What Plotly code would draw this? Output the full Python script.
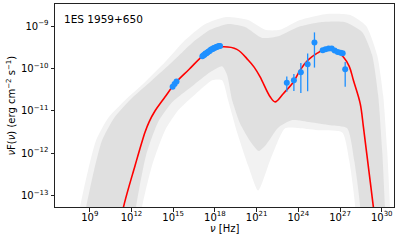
import numpy as np
import plotly.graph_objects as go

# ---------------- data (log10 values) ----------------
# best-fit model curve
model_lognu = [11.20, 11.42, 12.26, 12.98, 13.27, 13.70, 14.42, 15.14, 16.15, 17.16, 17.88,
               18.61, 19.58, 20.39, 20.82, 21.25, 21.97, 22.33, 22.93, 23.65, 24.13, 24.71,
               25.36, 26.05, 26.65, 27.24, 27.66, 27.96, 28.45, 28.68, 29.04, 29.40, 29.50]
model_logf = [-13.70, -13.28, -12.29, -11.50, -11.26, -11.00, -10.67, -10.35, -10.02, -9.69, -9.54,
              -9.49, -9.55, -9.80, -9.97, -10.20, -10.67, -10.79, -10.59, -10.32, -10.04, -9.80,
              -9.64, -9.53, -9.57, -9.73, -9.95, -10.28, -10.83, -11.38, -12.33, -13.28, -13.60]

# envelope of the sampled models (dense core), outline traced clockwise
core_lognu = [8.60, 8.74, 9.31, 9.88, 10.75, 12.04, 13.48, 14.92, 16.36, 17.65, 18.95, 20.17,
              21.40, 22.55, 23.99, 25.57, 27.37, 28.59, 29.31, 29.74, 30.03, 30.24, 30.30,
              28.40, 28.45, 28.02, 27.51, 26.29, 24.85, 23.56, 22.55, 21.68, 21.15, 20.60,
              19.81, 19.24, 18.88, 18.52, 17.65, 16.36, 14.92, 13.91, 13.05, 12.33, 12.25]
core_logf = [-13.60, -13.28, -12.40, -11.70, -11.17, -10.70, -10.28, -9.85, -9.40, -9.09, -8.95, -9.02,
             -9.28, -9.24, -9.02, -8.91, -8.91, -9.14, -9.69, -10.63, -11.93, -13.28, -13.60,
             -13.60, -13.28, -12.17, -11.41, -11.34, -11.27, -11.22, -11.40, -11.80, -11.95, -11.75,
             -11.30, -10.75, -10.16, -9.95, -10.09, -10.42, -10.80, -11.27, -12.05, -13.28, -13.60]

# faint outer envelope
outer_lognu = [8.20, 8.30, 8.88, 9.45, 10.32, 11.54, 12.98, 14.42, 15.86, 17.30, 18.74, 20.39,
               21.61, 22.68, 24.12, 25.92, 27.73, 28.88, 29.67, 30.10, 30.39, 30.60, 30.65,
               28.00, 28.09, 27.66, 27.16, 25.57, 24.12, 23.05, 21.97, 21.11, 20.39, 19.60,
               18.95, 18.52, 17.81, 16.59, 15.36, 14.42, 13.48, 12.76, 12.70]
outer_logf = [-13.60, -13.28, -12.40, -11.70, -11.17, -10.75, -10.32, -9.85, -9.33, -8.95, -8.79, -8.86,
              -9.09, -9.09, -8.86, -8.72, -8.74, -9.00, -9.69, -10.63, -11.93, -13.28, -13.60,
              -13.60, -13.28, -12.17, -11.51, -11.46, -11.41, -11.41, -12.17, -12.88, -12.29, -11.51,
              -10.75, -10.28, -10.28, -10.61, -10.99, -11.46, -12.29, -13.28, -13.60]

# optical / UV points
opt_lognu = [14.96, 15.10, 15.24]
opt_logf = [-10.43, -10.37, -10.31]

# X-ray points
xr_lognu = [17.10, 17.18, 17.25, 17.32, 17.40, 17.47, 17.55, 17.62, 17.70, 17.77, 17.85, 17.92,
            18.00, 18.07, 18.15, 18.22, 18.30, 18.37]
xr_logf = [-9.71, -9.69, -9.68, -9.65, -9.64, -9.62, -9.60, -9.59, -9.56, -9.55, -9.54, -9.52,
           -9.51, -9.50, -9.49, -9.48, -9.47, -9.47]

# gamma-ray points with asymmetric errors (in dex)
gam_lognu = [23.17, 23.68, 24.18, 24.67, 25.16, 25.75, 25.96, 26.18, 26.40, 26.61, 26.83, 27.04, 27.19, 27.37]
gam_logf = [-10.34, -10.28, -10.09, -9.90, -9.39, -9.57, -9.55, -9.53, -9.53, -9.58, -9.61, -9.63, -9.64, -10.02]
gam_err_up = [0.15, 0.15, 0.22, 0.25, 0.24, 0.03, 0.03, 0.03, 0.03, 0.03, 0.03, 0.03, 0.03, 0.17]
gam_err_dn = [0.21, 0.25, 0.49, 0.64, 0.59, 0.03, 0.03, 0.03, 0.03, 0.03, 0.03, 0.03, 0.03, 0.41]

x_tick_exp = [9, 12, 15, 18, 21, 24, 27, 30]
y_tick_exp = [-13, -12, -11, -10, -9]
source_name = "1ES 1959+650"

# ---------------- figure ----------------
p = lambda a: 10.0 ** np.asarray(a, dtype=float)
FONT = "DejaVu Sans"
BLUE = "#1E90FF"

fig = go.Figure()
fig.add_trace(go.Scatter(x=p(outer_lognu), y=p(outer_logf), fill="toself", mode="lines",
                         line=dict(width=0, shape="spline", smoothing=0.6),
                         fillcolor="rgba(242,242,242,1)", hoverinfo="skip"))
fig.add_trace(go.Scatter(x=p(core_lognu), y=p(core_logf), fill="toself", mode="lines",
                         line=dict(width=0, shape="spline", smoothing=0.6),
                         fillcolor="rgba(224,224,224,1)", hoverinfo="skip"))
fig.add_trace(go.Scatter(x=p(model_lognu), y=p(model_logf), mode="lines",
                         line=dict(color="red", width=1.6, shape="spline", smoothing=1.0)))
fig.add_trace(go.Scatter(x=p(opt_lognu), y=p(opt_logf), mode="markers",
                         marker=dict(color=BLUE, size=6)))
fig.add_trace(go.Scatter(x=p(xr_lognu), y=p(xr_logf), mode="markers",
                         marker=dict(color=BLUE, size=6)))
gf = p(gam_logf)
fig.add_trace(go.Scatter(
    x=p(gam_lognu), y=gf, mode="markers", marker=dict(color=BLUE, size=6),
    error_y=dict(type="data", symmetric=False,
                 array=p(np.array(gam_logf) + np.array(gam_err_up)) - gf,
                 arrayminus=gf - p(np.array(gam_logf) - np.array(gam_err_dn)),
                 color=BLUE, thickness=1.3, width=0)))

axis_common = dict(type="log", showgrid=False, zeroline=False, showline=True, automargin=False,
                   linecolor="#222", linewidth=1, mirror=True, ticks="outside",
                   ticklen=3.5, tickwidth=0.8, tickcolor="#222",
                   tickfont=dict(family=FONT, size=10, color="black"))
fig.update_xaxes(**axis_common, range=[6.50, 30.88], ticklabelstandoff=-3,
                 tickvals=[10.0 ** e for e in x_tick_exp],
                 ticktext=[f"10<sup>{e}</sup>" for e in x_tick_exp])
fig.update_yaxes(**axis_common, range=[-13.27, -8.48],
                 tickvals=[10.0 ** e for e in y_tick_exp],
                 ticktext=[f"10<sup>\u2212{-e}</sup>" for e in y_tick_exp])

fig.update_layout(
    width=399, height=240, showlegend=False,
    margin=dict(l=55, r=5, t=4, b=33, autoexpand=False),
    plot_bgcolor="white", paper_bgcolor="white",
    font=dict(family=FONT, size=10, color="black"),
    annotations=[
        dict(text=source_name, xref="paper", yref="paper", x=0.02, y=0.965,
             xanchor="left", yanchor="top", showarrow=False,
             font=dict(family=FONT, size=10.5, color="black")),
        dict(text="<i>\u03bd</i> [Hz]", xref="paper", yref="paper", x=0.5, y=0, yshift=-14,
             xanchor="center", yanchor="top", showarrow=False,
             font=dict(family=FONT, size=10, color="black")),
        dict(text="<i>\u03bd</i>F(<i>\u03bd</i>) (erg cm<sup>\u22122</sup> s<sup>\u22121</sup>)",
             xref="paper", yref="paper", x=0, xshift=-45, y=0.5, textangle=-90,
             xanchor="center", yanchor="middle", showarrow=False,
             font=dict(family=FONT, size=10, color="black")),
    ],
)

fig.write_html("out.html", config={"displayModeBar": False},
               post_script="document.body.style.margin='0px';")
